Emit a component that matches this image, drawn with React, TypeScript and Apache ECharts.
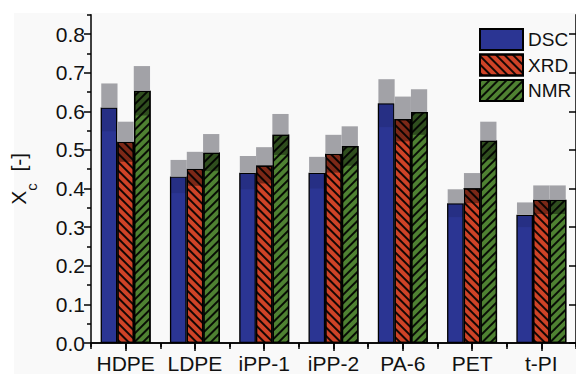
import { useEffect, useRef } from 'react';
import * as echarts from 'echarts';

const categories = ['HDPE', 'LDPE', 'iPP-1', 'iPP-2', 'PA-6', 'PET', 't-PI'];
const dsc = [0.61, 0.431, 0.441, 0.441, 0.621, 0.362, 0.332];
const dscErr = [0.062, 0.043, 0.043, 0.041, 0.062, 0.036, 0.032];
const xrd = [0.521, 0.451, 0.46, 0.49, 0.58, 0.401, 0.371];
const xrdErr = [0.052, 0.044, 0.047, 0.049, 0.058, 0.039, 0.037];
const nmr = [0.653, 0.493, 0.54, 0.51, 0.598, 0.524, 0.371];
const nmrErr = [0.064, 0.048, 0.053, 0.051, 0.059, 0.049, 0.037];
const yMajor = [0, 0.1, 0.2, 0.3, 0.4, 0.5, 0.6, 0.7, 0.8];
const yMinor = [0.05, 0.15, 0.25, 0.35, 0.45, 0.55, 0.65, 0.75, 0.85];

const FONT = '"Liberation Sans", Arial, sans-serif';
const BLUE = '#2b3593';
const RED = '#cf4327';
const GREEN = '#4f8232';

export default function App() {
  const ref = useRef<HTMLDivElement>(null);
  useEffect(() => {
    if (!ref.current) return;
    const chart = echarts.init(ref.current, null, { renderer: 'svg' });
    const barW = 50 / 3;
    const band = (vals: number[], errs: number[], k: number, name: string, shade: number) => ({
      type: 'custom',
      name: name + '-err',
      xAxisIndex: 0,
      yAxisIndex: 0,
      z: 5,
      silent: true,
      data: vals.map((v, i) => [i, v, errs[i]]),
      renderItem: (params: any, api: any) => {
        const i = api.value(0);
        const v = api.value(1);
        const e = api.value(2);
        const catW = api.size([1, 0])[0];
        const bw = (catW * 50) / 71 / 3;
        const c = api.coord([i, v]);
        const top = api.coord([i, v + e]);
        const bot = api.coord([i, v - e]);
        const x = c[0] + (k - 1) * bw - bw / 2;
        return {
          type: 'group',
          children: [
            {
              type: 'rect',
              shape: { x, y: top[1], width: bw, height: c[1] - top[1] },
              style: { fill: '#a2a2a7' },
            },
            {
              type: 'rect',
              shape: { x: x + 0.6, y: c[1] + 0.6, width: bw - 1.2, height: bot[1] - c[1] - 0.6 },
              style: { fill: 'rgba(0,0,0,' + shade + ')' },
            },
          ],
        };
      },
    });
    const hatch = (rot: number) => ({
      symbol: 'rect',
      symbolSize: 1,
      color: 'rgba(0,0,0,0.9)',
      dashArrayX: [1, 0],
      dashArrayY: [1.5, 4],
      rotation: rot,
    });
    chart.setOption({
      animation: false,
      backgroundColor: '#ffffff',
      graphic: [
        {
          type: 'rect',
          left: 14,
          top: 13,
          z: -10,
          silent: true,
          shape: { width: 562, height: 361 },
          style: { fill: '#f9f9f9' },
        },
      ],
      grid: { left: 86, top: 14.7, width: 497, height: 328.6, containLabel: false },
      legend: {
        data: ['DSC', 'XRD', 'NMR'],
        orient: 'vertical',
        left: 479,
        top: 28,
        padding: 0,
        itemWidth: 43,
        itemHeight: 21,
        itemGap: 2.5,
        icon: 'rect',
        textStyle: { fontSize: 19, color: '#111', fontFamily: FONT, padding: [0, 0, 0, 0] },
      },
      xAxis: [
        {
          type: 'category',
          data: categories,
          position: 'bottom',
          axisLine: { show: true, lineStyle: { color: '#000', width: 1.5 } },
          axisTick: { show: true, alignWithLabel: true, interval: 0, length: 8, lineStyle: { color: '#000', width: 1.5 } },
          axisLabel: { interval: 0, hideOverlap: false, fontSize: 21, color: '#111', fontFamily: FONT, margin: 10 },
          splitLine: { show: false },
        },
        {
          type: 'value',
          position: 'bottom',
          min: 0,
          max: 7,
          interval: 1,
          axisLine: { show: false },
          axisTick: { show: true, length: 4, lineStyle: { color: '#000', width: 1.5 } },
          axisLabel: { show: false },
          splitLine: { show: false },
        },
        {
          type: 'value',
          position: 'top',
          min: 0,
          max: 7,
          interval: 0.5,
          axisLine: { show: true, lineStyle: { color: '#000', width: 1.5 } },
          axisTick: { show: true, inside: true, length: 6, lineStyle: { color: '#000', width: 1.5 } },
          axisLabel: { show: false },
          splitLine: { show: false },
        },
      ],
      yAxis: [
        {
          type: 'value',
          position: 'left',
          min: 0,
          max: 0.85,
          interval: 0.1,
          name: '{x|X}{s|c}{x|  [-]}',
          nameLocation: 'middle',
          nameRotate: 90,
          nameGap: 52,
          nameTextStyle: {
            rich: {
              x: { fontSize: 21, color: '#111', fontFamily: FONT, lineHeight: 22, verticalAlign: 'top' },
              s: { fontSize: 15, color: '#111', fontFamily: FONT, lineHeight: 31, verticalAlign: 'bottom' },
            },
          },
          axisLine: { show: true, lineStyle: { color: '#000', width: 1.5 } },
          axisTick: { show: true, length: 7, customValues: yMajor, lineStyle: { color: '#000', width: 1.5 } },
          axisLabel: {
            fontSize: 21,
            color: '#111',
            fontFamily: FONT,
            margin: 6,
            customValues: yMajor,
            formatter: (v: number) => v.toFixed(1),
          },
          splitLine: { show: false },
        },
        {
          type: 'value',
          position: 'left',
          min: 0,
          max: 0.85,
          interval: 0.05,
          axisLine: { show: false },
          axisTick: { show: true, length: 4, customValues: yMinor, lineStyle: { color: '#000', width: 1.5 } },
          axisLabel: { show: false },
          splitLine: { show: false },
        },
        {
          type: 'value',
          position: 'right',
          min: 0,
          max: 0.85,
          interval: 0.05,
          axisLine: { show: true, lineStyle: { color: '#000', width: 1.5 } },
          axisTick: { show: true, inside: true, length: 7, customValues: yMajor, lineStyle: { color: '#000', width: 1.5 } },
          axisLabel: { show: false },
          splitLine: { show: false },
        },
      ],
      series: [
        {
          type: 'bar',
          name: 'DSC',
          data: dsc,
          barWidth: barW,
          barGap: '0%',
          itemStyle: { color: BLUE, borderColor: '#000', borderWidth: 1.3 },
        },
        {
          type: 'bar',
          name: 'XRD',
          data: xrd,
          barWidth: barW,
          barGap: '0%',
          itemStyle: { color: RED, borderColor: '#000', borderWidth: 1.3, decal: hatch(Math.PI / 4) },
        },
        {
          type: 'bar',
          name: 'NMR',
          data: nmr,
          barWidth: barW,
          barGap: '0%',
          itemStyle: { color: GREEN, borderColor: '#000', borderWidth: 1.3, decal: hatch(-Math.PI / 4) },
        },
        band(dsc, dscErr, 0, 'DSC', 0.1),
        band(xrd, xrdErr, 1, 'XRD', 0.4),
        band(nmr, nmrErr, 2, 'NMR', 0.4),
      ],
    });
    return () => chart.dispose();
  }, []);
  return (
    <div
      ref={ref}
      style={{ position: 'fixed', left: 0, top: 0, width: 576, height: 374 }}
    />
  );
}
